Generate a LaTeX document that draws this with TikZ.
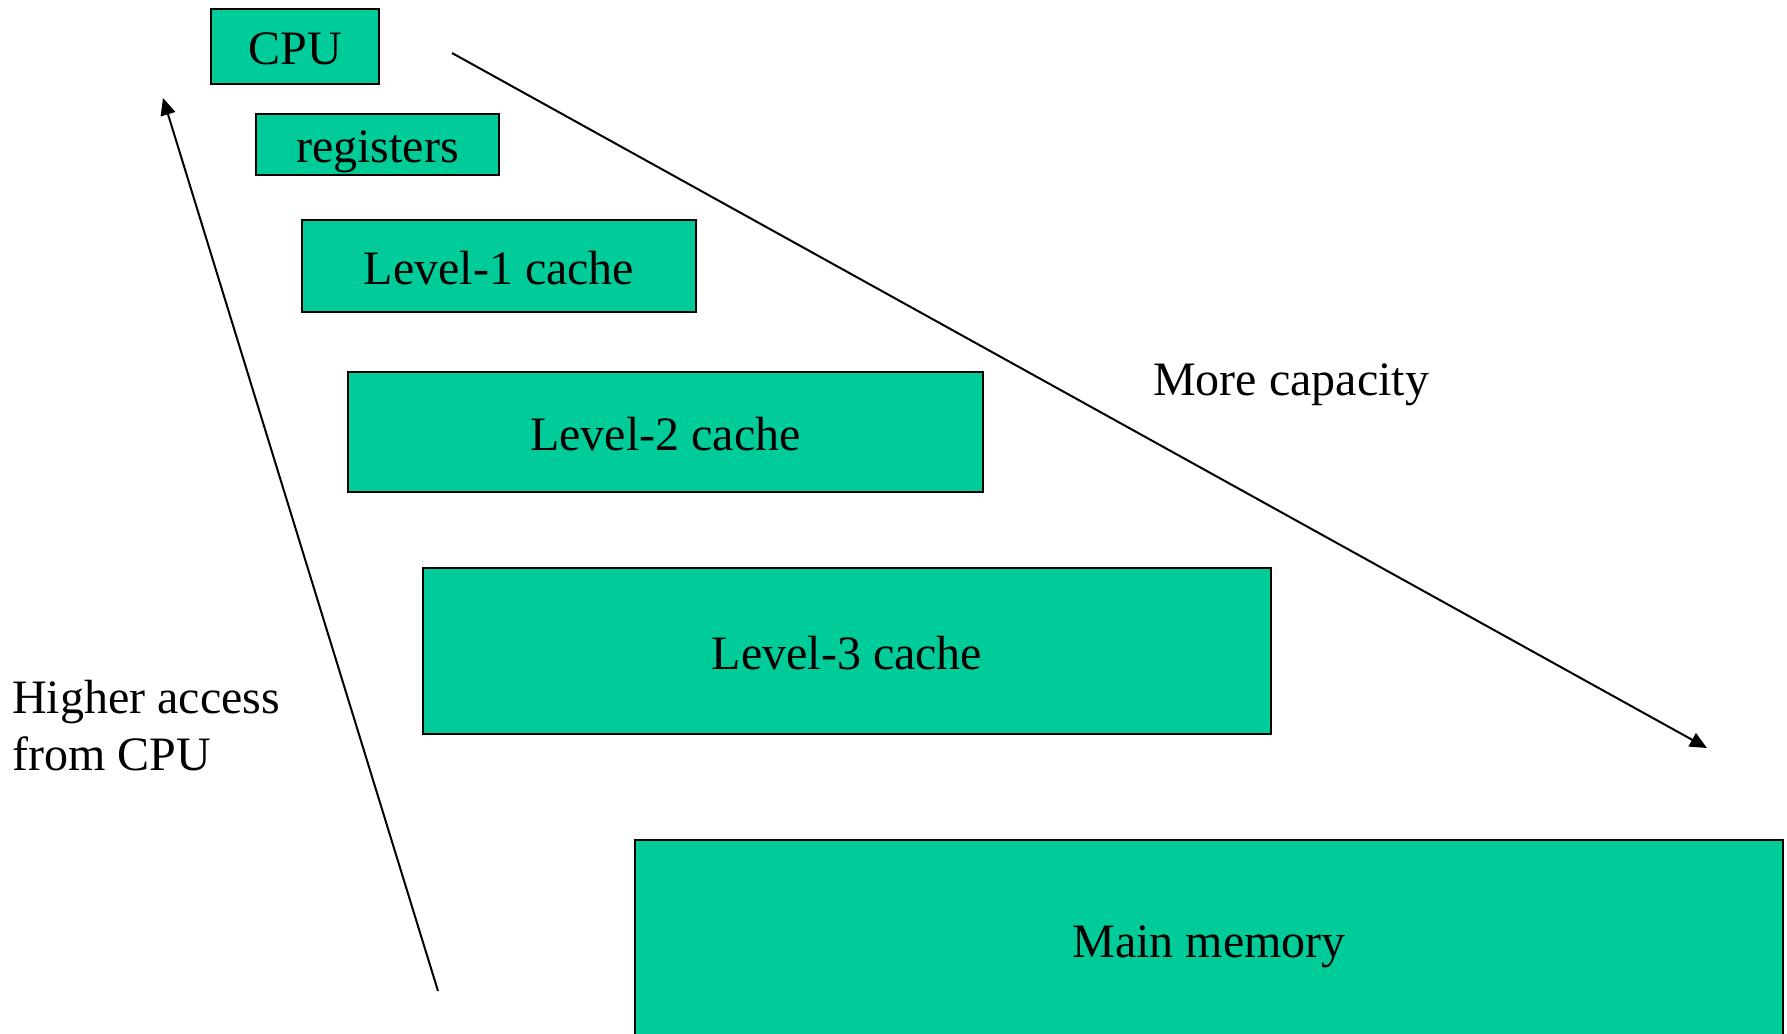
\documentclass[tikz,border=0pt]{standalone}
\usepackage{fontspec}
\setmainfont{Liberation Serif}
\usetikzlibrary{arrows.meta}
\definecolor{boxgreen}{RGB}{0,204,153}
\begin{document}
\begin{tikzpicture}[x=1pt,y=-1pt,
  membox/.style={draw=black, line width=2pt, fill=boxgreen, anchor=north west,
    inner sep=0pt, text height=36pt, text depth=0pt,
    font=\fontsize{48}{57}\selectfont},
  lbl/.style={inner sep=0pt, font=\fontsize{48}{57}\selectfont},
  arr/.style={line width=2pt, -{Triangle[length=17pt,width=15pt]}}]
\useasboundingbox (0,0) rectangle (1787,1033);
\node[membox, minimum width=168pt, minimum height=75pt] (cpu) at (210,8) {CPU};
\node[membox, minimum width=243pt, minimum height=61pt] (reg) at (255,113) {registers};
\node[membox, minimum width=394pt, minimum height=92pt] (l1) at (301,219) {Level-1 cache};
\node[membox, minimum width=635pt, minimum height=120pt] (l2) at (347,371) {Level-2 cache};
\node[membox, minimum width=848pt, minimum height=166pt] (l3) at (422,567) {Level-3 cache};
\node[membox, minimum width=1148pt, minimum height=198pt] (mm) at (634,839) {Main memory};
\node[lbl, anchor=base west] (cap) at (1153,395) {More capacity};
\node[lbl, anchor=base west, align=left] (acc) at (12,770) {Higher access\\from CPU};
\coordinate (a1s) at (438,991);
\coordinate (a1e) at (163,98);
\coordinate (a2s) at (452,53);
\coordinate (a2e) at (1707,748);
\draw[arr] (a1s) -- (a1e);
\draw[arr] (a2s) -- (a2e);
\end{tikzpicture}
\end{document}
